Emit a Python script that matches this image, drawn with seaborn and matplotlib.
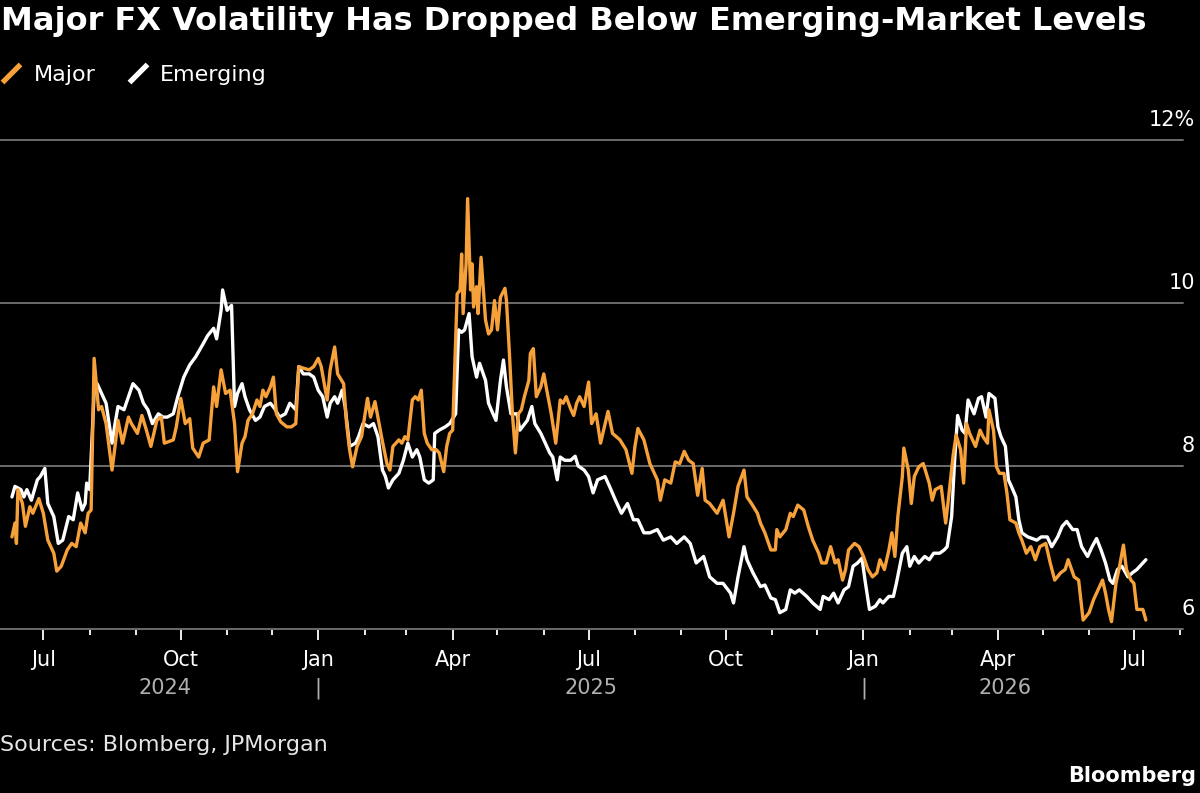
import pandas as pd
import matplotlib
matplotlib.use("Agg")
import matplotlib.pyplot as plt
import matplotlib.dates as mdates
import matplotlib.transforms as mtransforms
from matplotlib.lines import Line2D
from matplotlib.path import Path
import seaborn as sns

# 数据: 隐含波动率 (%)
major_dates = [
    "2024-06-10", "2024-06-12", "2024-06-13", "2024-06-14", "2024-06-17", "2024-06-19", "2024-06-22", "2024-06-24",
    "2024-06-28", "2024-07-01", "2024-07-04", "2024-07-08", "2024-07-10", "2024-07-13", "2024-07-17", "2024-07-20",
    "2024-07-23", "2024-07-26", "2024-07-29", "2024-07-31", "2024-08-02", "2024-08-04", "2024-08-07", "2024-08-09",
    "2024-08-12", "2024-08-16", "2024-08-18", "2024-08-20", "2024-08-23", "2024-08-27", "2024-08-29", "2024-09-02",
    "2024-09-05", "2024-09-08", "2024-09-11", "2024-09-15", "2024-09-18", "2024-09-20", "2024-09-26", "2024-09-28",
    "2024-10-01", "2024-10-04", "2024-10-07", "2024-10-09", "2024-10-13", "2024-10-16", "2024-10-20", "2024-10-23",
    "2024-10-25", "2024-10-28", "2024-10-31", "2024-11-03", "2024-11-06", "2024-11-08", "2024-11-11", "2024-11-13",
    "2024-11-15", "2024-11-18", "2024-11-21", "2024-11-23", "2024-11-25", "2024-11-27", "2024-11-30", "2024-12-02",
    "2024-12-04", "2024-12-07", "2024-12-11", "2024-12-14", "2024-12-17", "2024-12-19", "2024-12-22", "2024-12-26",
    "2024-12-29", "2025-01-01", "2025-01-03", "2025-01-07", "2025-01-09", "2025-01-12", "2025-01-14", "2025-01-18",
    "2025-01-20", "2025-01-22", "2025-01-24", "2025-01-27", "2025-01-30", "2025-02-03", "2025-02-05", "2025-02-08",
    "2025-02-11", "2025-02-13", "2025-02-16", "2025-02-18", "2025-02-20", "2025-02-24", "2025-02-26", "2025-02-28",
    "2025-03-02", "2025-03-05", "2025-03-07", "2025-03-09", "2025-03-11", "2025-03-13", "2025-03-15", "2025-03-18",
    "2025-03-21", "2025-03-23", "2025-03-26", "2025-03-28", "2025-03-30", "2025-04-01", "2025-04-04", "2025-04-06",
    "2025-04-07", "2025-04-08", "2025-04-10", "2025-04-11", "2025-04-13", "2025-04-14", "2025-04-15", "2025-04-17",
    "2025-04-18", "2025-04-20", "2025-04-23", "2025-04-25", "2025-04-27", "2025-04-29", "2025-05-01", "2025-05-03",
    "2025-05-06", "2025-05-07", "2025-05-09", "2025-05-11", "2025-05-13", "2025-05-15", "2025-05-17", "2025-05-19",
    "2025-05-22", "2025-05-23", "2025-05-25", "2025-05-27", "2025-05-30", "2025-06-01", "2025-06-03", "2025-06-06",
    "2025-06-09", "2025-06-12", "2025-06-14", "2025-06-16", "2025-06-19", "2025-06-21", "2025-06-23", "2025-06-25",
    "2025-06-28", "2025-07-01", "2025-07-03", "2025-07-06", "2025-07-09", "2025-07-14", "2025-07-17", "2025-07-22",
    "2025-07-26", "2025-07-30", "2025-08-01", "2025-08-03", "2025-08-07", "2025-08-11", "2025-08-16", "2025-08-18",
    "2025-08-21", "2025-08-25", "2025-08-28", "2025-08-31", "2025-09-03", "2025-09-06", "2025-09-09", "2025-09-12",
    "2025-09-15", "2025-09-17", "2025-09-20", "2025-09-25", "2025-09-29", "2025-10-03", "2025-10-06", "2025-10-09",
    "2025-10-13", "2025-10-15", "2025-10-18", "2025-10-22", "2025-10-24", "2025-10-27", "2025-10-31", "2025-11-03",
    "2025-11-04", "2025-11-06", "2025-11-10", "2025-11-13", "2025-11-15", "2025-11-18", "2025-11-22", "2025-11-25",
    "2025-11-28", "2025-12-02", "2025-12-04", "2025-12-07", "2025-12-10", "2025-12-13", "2025-12-15", "2025-12-18",
    "2025-12-20", "2025-12-22", "2025-12-26", "2025-12-29", "2026-01-01", "2026-01-04", "2026-01-07", "2026-01-10",
    "2026-01-12", "2026-01-15", "2026-01-18", "2026-01-20", "2026-01-22", "2026-01-24", "2026-01-27", "2026-01-28",
    "2026-01-31", "2026-02-02", "2026-02-04", "2026-02-07", "2026-02-10", "2026-02-12", "2026-02-14", "2026-02-16",
    "2026-02-18", "2026-02-22", "2026-02-25", "2026-02-27", "2026-03-02", "2026-03-04", "2026-03-07", "2026-03-09",
    "2026-03-11", "2026-03-13", "2026-03-17", "2026-03-20", "2026-03-22", "2026-03-25", "2026-03-26", "2026-03-29",
    "2026-03-31", "2026-04-02", "2026-04-05", "2026-04-07", "2026-04-09", "2026-04-13", "2026-04-15", "2026-04-17",
    "2026-04-20", "2026-04-23", "2026-04-26", "2026-04-29", "2026-05-03", "2026-05-06", "2026-05-09", "2026-05-13",
    "2026-05-16", "2026-05-18", "2026-05-22", "2026-05-25", "2026-05-28", "2026-06-01", "2026-06-04", "2026-06-07",
    "2026-06-10", "2026-06-12", "2026-06-14", "2026-06-16", "2026-06-19", "2026-06-21", "2026-06-24", "2026-06-26",
    "2026-06-29", "2026-07-01", "2026-07-03", "2026-07-07", "2026-07-09",
]
major_vol = [
    7.13, 7.30, 7.05, 7.71, 7.54, 7.26, 7.50, 7.42,
    7.60, 7.42, 7.09, 6.93, 6.71, 6.77, 6.97, 7.05,
    7.01, 7.30, 7.18, 7.42, 7.46, 9.32, 8.69, 8.73,
    8.52, 7.95, 8.24, 8.56, 8.28, 8.60, 8.52, 8.40,
    8.62, 8.44, 8.24, 8.56, 8.60, 8.28, 8.32, 8.48,
    8.83, 8.52, 8.58, 8.22, 8.11, 8.28, 8.32, 8.97,
    8.73, 9.18, 8.89, 8.93, 8.52, 7.93, 8.28, 8.36,
    8.56, 8.64, 8.81, 8.73, 8.93, 8.85, 8.97, 9.09,
    8.64, 8.54, 8.48, 8.48, 8.52, 9.22, 9.20, 9.18,
    9.22, 9.32, 9.22, 8.81, 9.18, 9.46, 9.13, 9.01,
    8.52, 8.20, 7.99, 8.24, 8.36, 8.83, 8.60, 8.79,
    8.50, 8.30, 8.03, 7.95, 8.24, 8.32, 8.28, 8.36,
    8.32, 8.81, 8.85, 8.81, 8.93, 8.40, 8.28, 8.20,
    8.20, 8.16, 7.93, 8.24, 8.40, 8.44, 10.11, 10.16,
    10.60, 9.87, 10.48, 11.28, 10.16, 10.48, 9.95, 10.20,
    9.87, 10.56, 9.79, 9.62, 9.67, 10.03, 9.67, 10.07,
    10.18, 10.03, 9.38, 8.64, 8.16, 8.64, 8.69, 8.85,
    9.05, 9.38, 9.44, 8.85, 8.97, 9.13, 8.93, 8.64,
    8.28, 8.81, 8.77, 8.85, 8.70, 8.62, 8.77, 8.85,
    8.73, 9.03, 8.52, 8.64, 8.28, 8.67, 8.40, 8.32,
    8.20, 7.91, 8.24, 8.46, 8.32, 8.03, 7.83, 7.58,
    7.83, 7.79, 8.05, 8.03, 8.18, 8.07, 8.03, 7.64,
    7.97, 7.58, 7.54, 7.42, 7.58, 7.13, 7.42, 7.75,
    7.95, 7.62, 7.54, 7.42, 7.30, 7.18, 6.97, 6.97,
    7.22, 7.13, 7.22, 7.42, 7.38, 7.52, 7.46, 7.26,
    7.09, 6.93, 6.81, 6.81, 7.01, 6.81, 6.85, 6.60,
    6.73, 6.97, 7.05, 7.01, 6.89, 6.73, 6.64, 6.69,
    6.85, 6.73, 6.97, 7.18, 6.89, 7.38, 7.87, 8.22,
    7.95, 7.54, 7.87, 7.99, 8.03, 7.91, 7.79, 7.58,
    7.71, 7.75, 7.30, 7.62, 8.13, 8.38, 8.20, 7.79,
    8.52, 8.40, 8.24, 8.44, 8.36, 8.28, 8.69, 8.44,
    7.99, 7.91, 7.91, 7.67, 7.34, 7.30, 7.18, 7.09,
    6.93, 7.01, 6.85, 7.01, 7.05, 6.81, 6.60, 6.69,
    6.73, 6.85, 6.64, 6.60, 6.11, 6.20, 6.36, 6.48,
    6.60, 6.44, 6.24, 6.09, 6.56, 6.73, 7.03, 6.73,
    6.60, 6.56, 6.24, 6.24, 6.11,
]

emerging_dates = [
    "2024-06-10", "2024-06-12", "2024-06-16", "2024-06-18", "2024-06-20", "2024-06-23", "2024-06-27", "2024-06-29",
    "2024-07-02", "2024-07-04", "2024-07-08", "2024-07-11", "2024-07-14", "2024-07-18", "2024-07-21", "2024-07-24",
    "2024-07-27", "2024-07-29", "2024-07-30", "2024-08-01", "2024-08-04", "2024-08-06", "2024-08-09", "2024-08-12",
    "2024-08-16", "2024-08-18", "2024-08-20", "2024-08-24", "2024-08-27", "2024-08-30", "2024-09-03", "2024-09-06",
    "2024-09-09", "2024-09-12", "2024-09-16", "2024-09-19", "2024-09-22", "2024-09-26", "2024-09-29", "2024-10-03",
    "2024-10-07", "2024-10-11", "2024-10-16", "2024-10-19", "2024-10-23", "2024-10-25", "2024-10-28", "2024-10-29",
    "2024-11-01", "2024-11-04", "2024-11-06", "2024-11-08", "2024-11-11", "2024-11-13", "2024-11-16", "2024-11-20",
    "2024-11-23", "2024-11-26", "2024-11-30", "2024-12-03", "2024-12-06", "2024-12-10", "2024-12-13", "2024-12-17",
    "2024-12-19", "2024-12-22", "2024-12-26", "2024-12-29", "2025-01-01", "2025-01-04", "2025-01-07", "2025-01-09",
    "2025-01-12", "2025-01-14", "2025-01-17", "2025-01-19", "2025-01-22", "2025-01-26", "2025-01-28", "2025-01-31",
    "2025-02-04", "2025-02-07", "2025-02-10", "2025-02-13", "2025-02-15", "2025-02-17", "2025-02-20", "2025-02-24",
    "2025-02-27", "2025-03-02", "2025-03-05", "2025-03-08", "2025-03-10", "2025-03-13", "2025-03-16", "2025-03-19",
    "2025-03-20", "2025-03-23", "2025-03-27", "2025-03-30", "2025-04-03", "2025-04-05", "2025-04-07", "2025-04-09",
    "2025-04-12", "2025-04-14", "2025-04-17", "2025-04-19", "2025-04-23", "2025-04-25", "2025-04-28", "2025-04-30",
    "2025-05-03", "2025-05-05", "2025-05-07", "2025-05-10", "2025-05-14", "2025-05-16", "2025-05-21", "2025-05-24",
    "2025-05-26", "2025-05-30", "2025-06-02", "2025-06-05", "2025-06-07", "2025-06-10", "2025-06-12", "2025-06-15",
    "2025-06-19", "2025-06-22", "2025-06-24", "2025-06-28", "2025-07-01", "2025-07-04", "2025-07-07", "2025-07-12",
    "2025-07-15", "2025-07-19", "2025-07-23", "2025-07-27", "2025-07-31", "2025-08-03", "2025-08-07", "2025-08-11",
    "2025-08-16", "2025-08-20", "2025-08-25", "2025-08-29", "2025-09-03", "2025-09-07", "2025-09-11", "2025-09-16",
    "2025-09-20", "2025-09-25", "2025-09-29", "2025-10-04", "2025-10-06", "2025-10-09", "2025-10-13", "2025-10-15",
    "2025-10-19", "2025-10-24", "2025-10-27", "2025-10-31", "2025-11-03", "2025-11-06", "2025-11-10", "2025-11-13",
    "2025-11-16", "2025-11-19", "2025-11-24", "2025-11-28", "2025-12-03", "2025-12-05", "2025-12-09", "2025-12-12",
    "2025-12-15", "2025-12-19", "2025-12-22", "2025-12-25", "2025-12-28", "2025-12-31", "2026-01-02", "2026-01-05",
    "2026-01-09", "2026-01-12", "2026-01-14", "2026-01-18", "2026-01-21", "2026-01-23", "2026-01-27", "2026-01-30",
    "2026-02-01", "2026-02-04", "2026-02-07", "2026-02-11", "2026-02-14", "2026-02-17", "2026-02-21", "2026-02-24",
    "2026-02-26", "2026-03-01", "2026-03-03", "2026-03-05", "2026-03-08", "2026-03-10", "2026-03-12", "2026-03-16",
    "2026-03-19", "2026-03-21", "2026-03-24", "2026-03-26", "2026-03-30", "2026-04-01", "2026-04-03", "2026-04-06",
    "2026-04-08", "2026-04-10", "2026-04-13", "2026-04-15", "2026-04-17", "2026-04-21", "2026-04-24", "2026-04-27",
    "2026-04-30", "2026-05-04", "2026-05-07", "2026-05-11", "2026-05-14", "2026-05-17", "2026-05-21", "2026-05-24",
    "2026-05-27", "2026-05-31", "2026-06-03", "2026-06-06", "2026-06-09", "2026-06-12", "2026-06-15", "2026-06-17",
    "2026-06-20", "2026-06-23", "2026-06-27", "2026-06-30", "2026-07-03", "2026-07-07", "2026-07-09",
]
emerging_vol = [
    7.62, 7.75, 7.71, 7.62, 7.71, 7.58, 7.83, 7.87,
    7.97, 7.54, 7.38, 7.05, 7.09, 7.38, 7.34, 7.67,
    7.46, 7.54, 7.79, 7.71, 8.90, 9.01, 8.89, 8.77,
    8.28, 8.52, 8.73, 8.69, 8.85, 9.01, 8.93, 8.77,
    8.69, 8.52, 8.64, 8.60, 8.60, 8.64, 8.85, 9.09,
    9.24, 9.34, 9.50, 9.60, 9.69, 9.56, 9.91, 10.16,
    9.91, 9.97, 8.73, 8.89, 9.01, 8.85, 8.69, 8.56,
    8.60, 8.73, 8.77, 8.70, 8.60, 8.64, 8.77, 8.69,
    9.22, 9.13, 9.13, 9.09, 8.93, 8.85, 8.60, 8.77,
    8.85, 8.77, 8.93, 8.73, 8.24, 8.28, 8.36, 8.52,
    8.48, 8.52, 8.36, 7.95, 7.87, 7.73, 7.83, 7.91,
    8.07, 8.28, 8.11, 8.20, 8.11, 7.83, 7.79, 7.83,
    8.40, 8.44, 8.48, 8.52, 8.64, 9.67, 9.64, 9.67,
    9.87, 9.34, 9.09, 9.26, 9.05, 8.77, 8.64, 8.56,
    9.05, 9.30, 8.97, 8.64, 8.64, 8.44, 8.56, 8.73,
    8.52, 8.40, 8.28, 8.16, 8.11, 7.83, 8.11, 8.07,
    8.07, 8.12, 8.00, 7.95, 7.87, 7.67, 7.83, 7.87,
    7.75, 7.58, 7.42, 7.54, 7.34, 7.34, 7.18, 7.18,
    7.22, 7.09, 7.13, 7.05, 7.13, 7.05, 6.81, 6.89,
    6.64, 6.56, 6.56, 6.44, 6.32, 6.64, 7.01, 6.85,
    6.69, 6.52, 6.54, 6.38, 6.36, 6.20, 6.24, 6.48,
    6.44, 6.48, 6.40, 6.32, 6.24, 6.40, 6.36, 6.44,
    6.32, 6.48, 6.52, 6.77, 6.81, 6.87, 6.60, 6.24,
    6.28, 6.36, 6.32, 6.40, 6.40, 6.56, 6.93, 7.01,
    6.77, 6.89, 6.81, 6.89, 6.85, 6.93, 6.93, 6.97,
    7.01, 7.38, 8.07, 8.62, 8.44, 8.40, 8.81, 8.64,
    8.83, 8.85, 8.60, 8.89, 8.83, 8.48, 8.36, 8.24,
    7.83, 7.75, 7.62, 7.34, 7.18, 7.13, 7.11, 7.09,
    7.13, 7.13, 7.01, 7.13, 7.26, 7.32, 7.22, 7.22,
    7.01, 6.89, 7.01, 7.11, 6.97, 6.81, 6.60, 6.56,
    6.73, 6.77, 6.64, 6.69, 6.73, 6.81, 6.85,
]

series_order = ["Emerging", "Major"]  # 白线先画, 橙线在上
palette = {"Major": "#f7a13a", "Emerging": "#ffffff"}
y_ticks = [6, 8, 10, 12]
y_tick_labels = ["6", "8", "10", "12%"]

title = "Major FX Volatility Has Dropped Below Emerging-Market Levels"
source = "Sources: Blomberg, JPMorgan"

df = pd.concat([
    pd.DataFrame({"date": major_dates, "vol": major_vol, "series": "Major"}),
    pd.DataFrame({"date": emerging_dates, "vol": emerging_vol, "series": "Emerging"}),
])
df["date"] = pd.to_datetime(df["date"])

sns.set_style("dark")
plt.rcParams["font.family"] = ["DejaVu Sans"]

fig = plt.figure(figsize=(12, 7.93), dpi=100, facecolor="black")
ax = fig.add_axes([0.0, 0.2068, 0.986, 0.6167])
ax.set_facecolor("black")

sns.lineplot(data=df, x="date", y="vol", hue="series", hue_order=series_order,
             palette=palette, linewidth=2.4, legend=False, estimator=None, ax=ax)

ax.set_xlim(pd.Timestamp("2024-06-02"), pd.Timestamp("2026-08-03"))
ax.set_ylim(6, 12)
ax.set_xlabel("")
ax.set_ylabel("")

for name, spine in ax.spines.items():
    spine.set_visible(False)

# 横向网格线
ax.set_yticks(y_ticks)
ax.yaxis.grid(True, color="#6b6b6b", linewidth=1.4)
ax.xaxis.grid(False)
ax.set_axisbelow(True)
for gl in ax.get_ygridlines():
    gl.set_clip_on(False)
ax.tick_params(axis="y", length=0, labelleft=False, labelright=False)

# y 轴标签在网格线上方右侧
trans_y = mtransforms.blended_transform_factory(fig.transFigure, ax.transData)
for v, lab in zip(y_ticks, y_tick_labels):
    ax.annotate(lab, xy=(0.996, v), xycoords=trans_y, xytext=(0, 7.5),
                textcoords="offset points", ha="right", va="bottom",
                color="white", fontsize=15, annotation_clip=False)

# x 轴: 季度月份标签, 每月小刻度
ax.xaxis.set_major_locator(mdates.MonthLocator(bymonth=[1, 4, 7, 10]))
ax.xaxis.set_minor_locator(mdates.MonthLocator())
ax.xaxis.set_major_formatter(mdates.DateFormatter("%b"))
ax.tick_params(axis="x", which="major", length=8, width=1.3, color="white",
               labelcolor="white", labelsize=15, pad=7, direction="out", bottom=True)
ax.tick_params(axis="x", which="minor", length=4, width=1.3, color="white",
               direction="out", bottom=True)

# 年份标签与分隔符
trans_x = mtransforms.blended_transform_factory(ax.transData, fig.transFigure)
first_day = df["date"].min()
last_day = df["date"].max()
bounds = [first_day, pd.Timestamp("2025-01-01"), pd.Timestamp("2026-01-01"), last_day]
for i, year in enumerate(["2024", "2025", "2026"]):
    mid = bounds[i] + (bounds[i + 1] - bounds[i]) / 2
    ax.text(mdates.date2num(mid), 0.132, year, transform=trans_x, ha="center",
            va="center", color="#b0b0b0", fontsize=15)
for sep in bounds[1:3]:
    ax.text(mdates.date2num(sep), 0.132, "|", transform=trans_x, ha="center",
            va="center", color="#b0b0b0", fontsize=15)

# 标题
fig.text(0.001, 0.992, title, ha="left", va="top", fontsize=23,
         fontweight="bold", color="white")

# 图例 (斜线符号)
slash = Path([(-1, -1), (1, 1)], [Path.MOVETO, Path.LINETO])
handles = [
    Line2D([], [], color=palette["Major"], marker=slash, linestyle="none",
           markersize=13, markeredgewidth=3.8),
    Line2D([], [], color=palette["Emerging"], marker=slash, linestyle="none",
           markersize=13, markeredgewidth=3.8),
]
fig.legend(handles, ["Major", "Emerging"], loc="center left",
           bbox_to_anchor=(-0.0165, 0.906), ncol=2, frameon=False, fontsize=16,
           labelcolor="white", handlelength=1.0, handletextpad=0.5,
           columnspacing=1.4)

# 数据来源和 Bloomberg 标志
fig.text(0.0, 0.06, source, ha="left", va="center", fontsize=16, color="#e6e6e6")
fig.text(0.997, 0.022, "Bloomberg", ha="right", va="center", fontsize=15,
         fontweight="bold", color="white")

fig.savefig("out.png", dpi=100, facecolor="black")
plt.close(fig)
